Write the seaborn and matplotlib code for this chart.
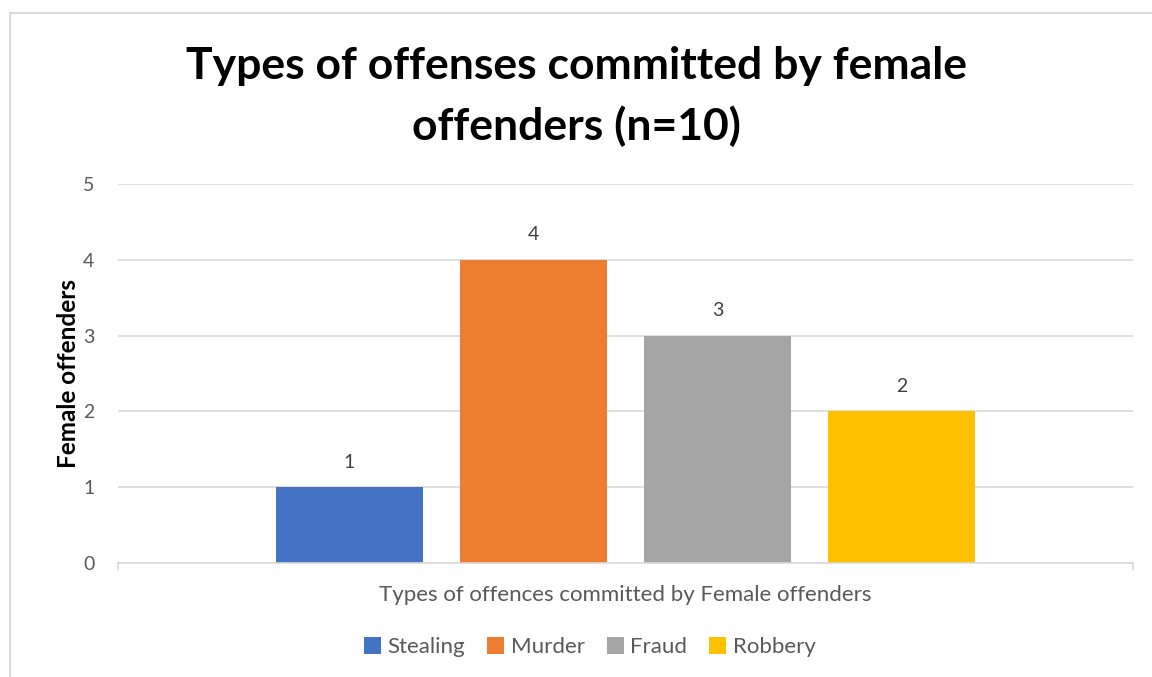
import seaborn as sns
import matplotlib.pyplot as plt
import pandas as pd

# Female offender counts by offense type
offenses = ["Stealing", "Murder", "Fraud", "Robbery"]
counts = [1, 4, 3, 2]
colors = ["#4472C4", "#ED7D31", "#A5A5A5", "#FFC000"]
group_label = "Types of offences committed by Female offenders"

df = pd.DataFrame({"group": [group_label] * len(offenses), "offense": offenses, "count": counts})

sns.set_style("white")
plt.rcParams["font.family"] = ["Lato", "DejaVu Sans"]

fig = plt.figure(figsize=(11.52, 6.77), dpi=100)
ax = fig.add_axes([0.1024, 0.1684, 0.8811, 0.5598])

sns.barplot(data=df, x="group", y="count", hue="offense", palette=colors,
            width=0.725, gap=0.2, saturation=1, linewidth=0, ax=ax, legend=True)

for cont in ax.containers:
    ax.bar_label(cont, padding=12, fontsize=14, color="#404040")

ax.set_ylim(0, 5)
ax.set_xlim(-0.5, 0.5)
ax.set_yticks(range(0, 6))
ax.yaxis.grid(True, color="#D9D9D9", linewidth=1.2)
ax.set_axisbelow(True)
for s in ["top", "right", "left"]:
    ax.spines[s].set_visible(False)
ax.spines["bottom"].set_color("#D9D9D9")
ax.spines["bottom"].set_linewidth(1.2)
ax.tick_params(axis="y", length=0, labelsize=14, labelcolor="#595959", pad=17)
ax.set_xticks([])
ax.set_xlabel(group_label, fontsize=16, color="#595959", labelpad=16)
ax.set_ylabel("Female offenders", fontsize=17.5, fontweight="bold", color="black", labelpad=2)

# small end ticks on category axis
for xv in (-0.5, 0.5):
    ax.plot([xv, xv], [0, -0.09], color="#D9D9D9", lw=1.2, clip_on=False)

fig.suptitle("Types of offenses committed by female\noffenders (n=10)", fontsize=32,
             fontweight="bold", color="black", y=0.932, linespacing=1.55)

handles, labels = ax.get_legend_handles_labels()
ax.legend(handles, labels, loc="center", bbox_to_anchor=(0.465, -0.222), ncol=4, frameon=False,
          fontsize=16, labelcolor="#595959", handlelength=0.75, handleheight=0.75,
          handletextpad=0.3, columnspacing=1.0)

# chart border
fig.patches.append(plt.Rectangle((0.0087, -0.01), 1.0, 0.9908, transform=fig.transFigure,
                                 fill=False, edgecolor="#D9D9D9", linewidth=1.5))

fig.savefig("out.png", dpi=100)
